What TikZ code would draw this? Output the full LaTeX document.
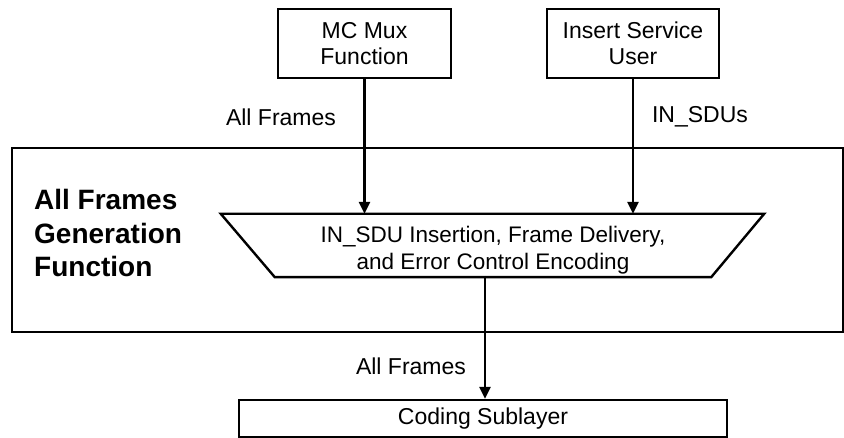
\documentclass[tikz,border=0pt]{standalone}
\usepackage{fontspec}
\setmainfont{Liberation Sans}
\usetikzlibrary{arrows.meta}
\begin{document}
\begin{tikzpicture}[x=1pt,y=-1pt,
  line width=2.4pt,
  txt/.style={font=\fontsize{23}{26}\selectfont},
  boxstyle/.style={draw, line width=2.4pt, inner sep=0pt, align=center, txt},
  lbl/.style={inner sep=0pt, txt},
  arr/.style={-{Triangle[length=12pt,width=11pt]}, line width=2.4pt},
  boldlbl/.style={inner sep=0pt, align=left, anchor=north west, font=\fontsize{28}{33.5}\selectfont\bfseries}
]
\useasboundingbox (0,0) rectangle (844,438);
% outer function rectangle
\node[draw, line width=2.4pt, inner sep=0pt, minimum width=831pt, minimum height=184pt] (afg) at (427.5,240) {};
% top boxes
\node[boxstyle, minimum width=173pt, minimum height=69pt] (mc) at (364.5,43.5) {MC Mux\\Function};
\node[boxstyle, minimum width=172pt, minimum height=69pt] (isu) at (633,43.5) {Insert Service\\User};
% trapezoid (text node + outline)
\node[inner sep=0pt, minimum width=434pt, minimum height=61pt] (trap) at (493,245.5) {};
\node[inner sep=0pt, align=center, font=\fontsize{22.5}{26.5}\selectfont] (traptxt) at (493,250) {IN\_SDU Insertion, Frame Delivery,\\and Error Control Encoding};
\draw[line width=2.4pt, line join=miter] ([xshift=-54pt]trap.north west) -- ([xshift=53pt]trap.north east) -- (trap.south east) -- (trap.south west) -- cycle;
% coding sublayer
\node[boxstyle, minimum width=488pt, minimum height=37pt] (cs) at (483,418.5) {Coding Sublayer};
% bold function label
\node[boldlbl] (afgl) at (33,188.5) {All Frames\\Generation\\Function};
% connectors
\draw[arr] (mc.south) -- (mc.south |- trap.north);
\draw[arr] (isu.south) -- (isu.south |- trap.north);
\coordinate (tb) at (485,276);
\draw[arr] (tb) -- (tb |- cs.north);
% labels
\node[lbl] (l1) at (281,117) {All Frames};
\node[lbl] (l2) at (700,117) {IN\_SDUs};
\node[lbl] (l3) at (411,366) {All Frames};
\end{tikzpicture}
\end{document}
